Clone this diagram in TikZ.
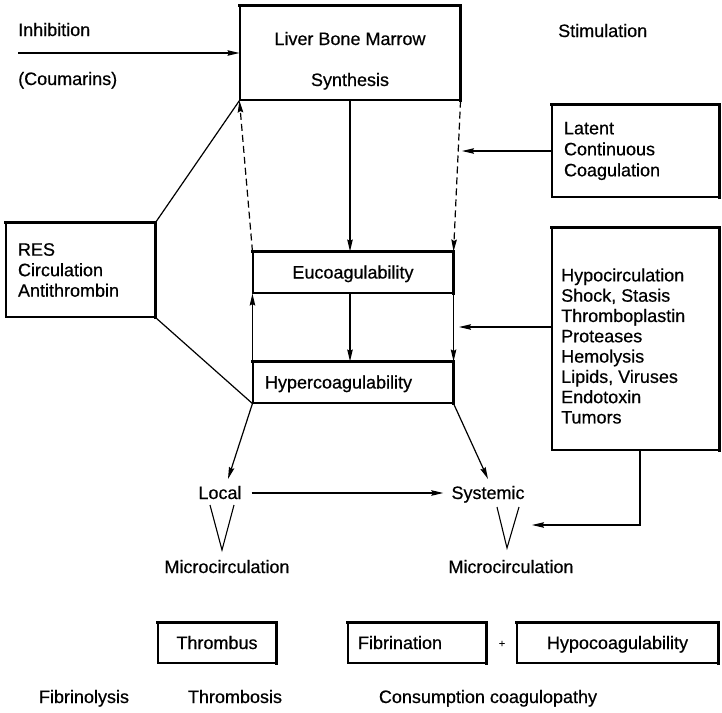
\documentclass[tikz,border=0pt]{standalone}
\usepackage{fontspec}
\setmainfont{Liberation Sans}[FakeBold=0.5]
\usetikzlibrary{arrows.meta,calc}
\begin{document}
\begin{tikzpicture}[x=1pt,y=-1pt,
  every node/.style={font=\fontsize{18}{20.5}\selectfont, inner sep=0pt},
  one/.style={text height=13pt, text depth=1pt},
  box/.style={draw, line width=1.1pt, anchor=center},
  heavy/.style={line width=3pt, line cap=rect},
  conn/.style={line width=1.2pt},
  arr/.style={conn, -{Stealth[length=12pt,width=5.5pt,inset=1.5pt]}},
  dsh/.style={arr, dash pattern=on 7pt off 4pt},
  vline/.style={line width=1.1pt, line join=miter}
]
\useasboundingbox (0,0) rectangle (722,712);
\fill[white] (0,0) rectangle (722,712);

% headings
\node[one, anchor=west] (inh) at (18,30) {Inhibition};
\node[one, anchor=west] (coum) at (18,79) {(Coumarins)};
\node[one, anchor=west] (stim) at (558,31) {Stimulation};

% synthesis box
\node[box, minimum width=220pt, minimum height=94pt] (liver) at (350,53) {};
\node[one] (liverA) at (350,39) {Liver Bone Marrow};
\node[one] (liverB) at (350,80) {Synthesis};

% stimulating factors
\node[box, minimum width=167pt, minimum height=92pt, inner xsep=12pt,
      text width=143pt, align=left, font=\fontsize{18}{21}\selectfont]
      (latent) at (635.5,151) {Latent\\Continuous\\Coagulation};
\node[box, minimum width=167pt, minimum height=222pt] (hypo) at (635.5,339) {};
\node[anchor=west, align=left, font=\fontsize{18}{20.3}\selectfont] (hypotxt) at (561,346)
  {Hypocirculation\\Shock, Stasis\\Thromboplastin\\Proteases\\Hemolysis\\Lipids, Viruses\\Endotoxin\\Tumors};

% clearance box
\node[box, minimum width=149pt, minimum height=94pt, inner xsep=12pt,
      text width=125pt, align=left, font=\fontsize{18}{20.5}\selectfont]
      (res) at (80.5,270) {RES\\Circulation\\Antithrombin};

% coagulability states
\node[box, one, minimum width=200pt, minimum height=41pt] (euco) at (353,272.5) {Eucoagulability};
\node[box, one, minimum width=200pt, minimum height=41pt, inner xsep=12pt,
      text width=176pt, align=left] (hyper) at (353,382.5) {Hypercoagulability};

% outcomes
\node[one] (local) at (220,493) {Local};
\node[one] (systemic) at (488,493) {Systemic};
\node[one] (microL) at (227,567) {Microcirculation};
\node[one] (microR) at (511,567) {Microcirculation};

\node[box, one, minimum width=118pt, minimum height=40pt] (thrombus) at (217,643) {Thrombus};
\node[box, one, minimum width=138pt, minimum height=40pt, inner xsep=10pt,
      text width=118pt, align=left] (fibr) at (417,643) {Fibrination};
\node[font=\fontsize{11}{12}\selectfont] (plus) at (502,644) {+};
\node[box, one, minimum width=201pt, minimum height=40pt] (hypocoag) at (617.5,643) {Hypocoagulability};

\node[one] (fibrinolysis) at (84,697) {Fibrinolysis};
\node[one] (thrombosis) at (235,697) {Thrombosis};
\node[one] (consumption) at (488,697) {Consumption coagulopathy};

% heavy top and right edges of the boxes
\foreach \n in {liver,latent,hypo,res,euco,hyper,thrombus,fibr,hypocoag}
  \draw[heavy] (\n.north west) -- (\n.north east) -- (\n.south east);

% free arrow ends
\coordinate (inhstart) at (18,53);
\coordinate (latenttip) at (462,151);
\coordinate (hypotip) at (459,327);
\coordinate (localtip) at (228,479);
\coordinate (systip) at (488,479);
\coordinate (elbowend) at (532,525);

% connectors
\draw[arr] (inhstart) -- (liver.west);
\draw[arr] (liver.south) -- (liver.south |- euco.north);
\draw[dsh] (liver.south east) -- (euco.north east);
\draw[dsh] (euco.north west) -- (liver.south west);
\draw[arr] (latent.west) -- (latenttip);

\draw[arr] (hyper.north west) -- (euco.south west);
\draw[arr] (euco.south -| liver.south) -- (hyper.north -| liver.south);
\draw[arr] (euco.south east) -- (hyper.north east);
\draw[arr] ($(hypo.west)+(0,-12)$) -- (hypotip);

\draw[conn] (res.north east) -- (liver.south west);
\draw[conn] (res.south east) -- (hyper.south west);

\draw[arr] (hyper.south west) -- (localtip);
\draw[arr] (hyper.south east) -- (systip);
\draw[arr, shorten <=10pt, shorten >=8pt] (local.east) -- (systemic.west);
\draw[arr] ($(hypo.south)+(4.5,0)$) |- (elbowend);

% wedges below the outcomes
\coordinate (vLa) at (210,505);
\coordinate (vLb) at (222,550);
\coordinate (vLc) at (234,505);
\coordinate (vRa) at (497,507);
\coordinate (vRb) at (507,548);
\coordinate (vRc) at (519,507);
\draw[vline] (vLa) -- (vLb) -- (vLc);
\draw[vline] (vRa) -- (vRb) -- (vRc);
\end{tikzpicture}
\end{document}
